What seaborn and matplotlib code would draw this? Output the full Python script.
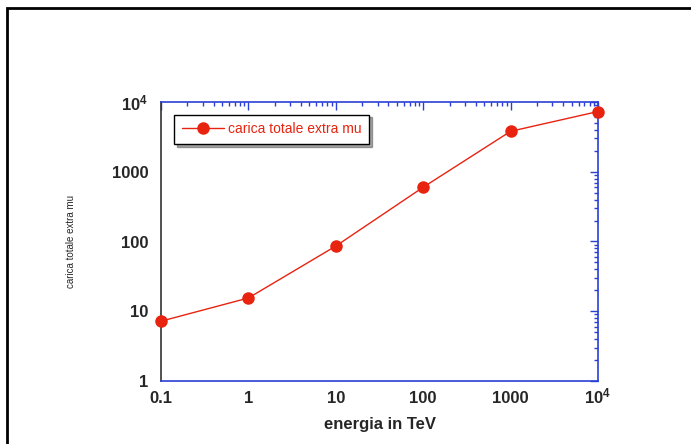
import matplotlib
matplotlib.use("Agg")
import matplotlib.pyplot as plt
import seaborn as sns
import pandas as pd
from matplotlib.patches import Rectangle
from matplotlib.ticker import FixedLocator, FixedFormatter, LogLocator, NullFormatter

energy = [0.1, 1, 10, 100, 1000, 10000]
charge = [7.2, 15.5, 86, 600, 3800, 7300]
x_ticks = [0.1, 1, 10, 100, 1000, 10000]
x_labels = ["0.1", "1", "10", "100", "1000", r"10$^{4}$"]
y_ticks = [1, 10, 100, 1000, 10000]
y_labels = ["1", "10", "100", "1000", r"10$^{4}$"]
series_name = "carica totale extra mu"

sns.set_theme(style="white")
plt.rcParams['font.family'] = ['Liberation Sans', 'DejaVu Sans']
plt.rcParams['mathtext.default'] = 'bf'
plt.rcParams['mathtext.fontset'] = 'custom'
plt.rcParams['mathtext.bf'] = 'Liberation Sans:bold'

df = pd.DataFrame({"energia": energy, "carica": charge})

fig = plt.figure(figsize=(6.91, 4.44), dpi=100)
fig.patch.set_facecolor("white")
ax = fig.add_axes([161/691, 1-381/444, (598-161)/691, (381-102)/444])

red = "#e8230f"
sns.lineplot(data=df, x="energia", y="carica", ax=ax, color=red, lw=1,
             marker="o", markersize=9, markeredgewidth=0, label=series_name,
             clip_on=False, zorder=5)
ax.set_xscale("log")
ax.set_yscale("log")
ax.set_xlim(0.1, 10000)
ax.set_ylim(1, 10000)

blue = "#2a3fd6"
for s in ["top", "right", "bottom"]:
    ax.spines[s].set_color(blue)
    ax.spines[s].set_linewidth(1.2)
ax.spines["left"].set_color("#333333")
ax.spines["left"].set_linewidth(1.2)

ax.xaxis.set_major_locator(FixedLocator(x_ticks))
ax.xaxis.set_major_formatter(FixedFormatter(x_labels))
ax.yaxis.set_major_locator(FixedLocator(y_ticks))
ax.yaxis.set_major_formatter(FixedFormatter(y_labels))
ax.xaxis.set_minor_locator(LogLocator(base=10, subs=range(2, 10)))
ax.yaxis.set_minor_locator(LogLocator(base=10, subs=range(2, 10)))
ax.xaxis.set_minor_formatter(NullFormatter())
ax.yaxis.set_minor_formatter(NullFormatter())
ax.tick_params(which="both", direction="in", top=True, right=True, color=blue, width=1)
ax.tick_params(which="major", length=6, labelsize=12)
ax.tick_params(axis="y", which="major", pad=9)
ax.tick_params(axis="x", which="major", pad=16)
ax.tick_params(which="minor", length=3)
for lab in ax.get_xticklabels():
    lab.set_fontweight("bold")
    lab.set_verticalalignment("baseline")
for lab in ax.get_yticklabels():
    lab.set_fontweight("bold")

ax.set_xlabel("energia in TeV", fontsize=12, fontweight="bold", labelpad=8)
ax.set_ylabel("carica totale extra mu", fontsize=7, labelpad=26)
ax.grid(False)

leg = ax.legend(loc="upper left", bbox_to_anchor=(0.015, 0.98), frameon=True,
                fancybox=False, shadow=True, fontsize=10, handlelength=3,
                handletextpad=0.3, borderpad=0.55)
leg.get_frame().set_edgecolor("black")
leg.get_frame().set_linewidth(1)
for t in leg.get_texts():
    t.set_color(red)

fig.patches.append(Rectangle((7/691, -0.1), 1, 1.1-8/444, transform=fig.transFigure,
                             fill=False, edgecolor="black", lw=2, clip_on=False))

fig.savefig("out.png", dpi=100)
